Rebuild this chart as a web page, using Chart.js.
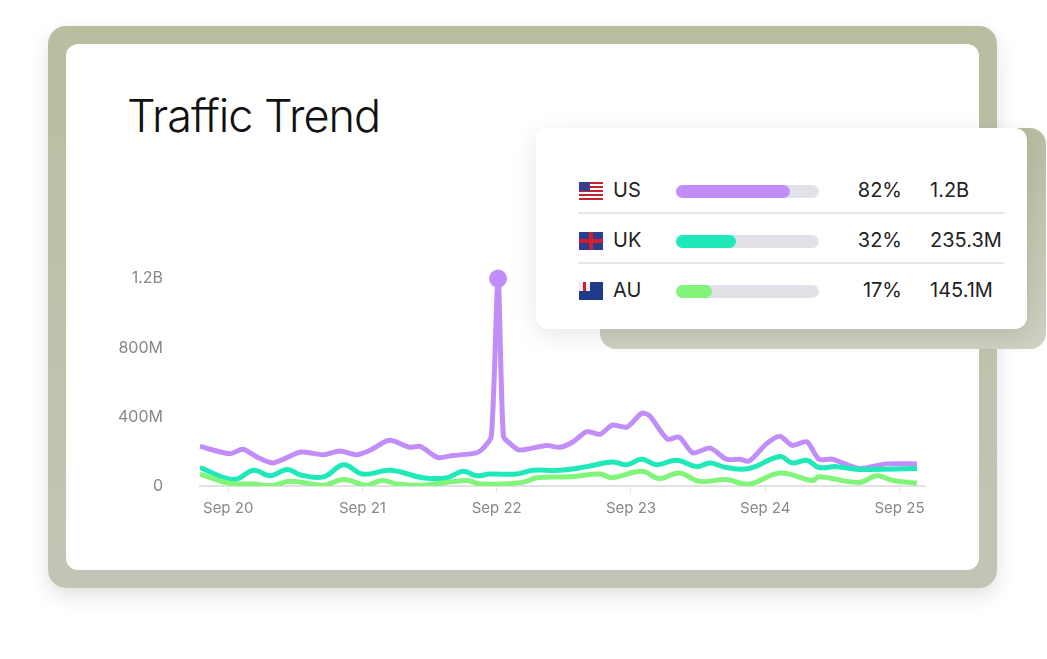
<!DOCTYPE html>
<html>
<head>
<meta charset="utf-8">
<script src="https://cdn.jsdelivr.net/npm/chart.js@4/dist/chart.umd.min.js"></script>
<style>
  body { margin: 0; width: 1047px; height: 659px; background: #fff; font-family: Inter, "Noto Sans", sans-serif; position: relative; overflow: hidden; }
  .frame { position: absolute; left: 48px; top: 26px; width: 949px; height: 562px; border-radius: 18px;
           background: linear-gradient(180deg, #b8bea0, #c4c4b6); box-shadow: 0 8px 20px rgba(0,0,0,0.12); }
  .card { position: absolute; left: 66px; top: 44px; width: 913px; height: 526px; border-radius: 12px; background: #fff; }
  .title { position: absolute; left: 127px; top: 88px; font-size: 45px; font-weight: 300; color: #111; letter-spacing: -1px; }
  .lframe { position: absolute; left: 600px; top: 128px; width: 446px; height: 221px; border-radius: 16px;
            background: linear-gradient(180deg, #b8bea0, #cfd0c2); }
  .lcard { position: absolute; left: 536px; top: 128px; width: 491px; height: 201px; border-radius: 12px; background: #fff;
           box-shadow: 0 6px 24px rgba(0,0,0,0.10); }
  .row { position: absolute; left: 578px; width: 426px; height: 50px; }
  .sep { position: absolute; left: 578px; width: 426px; height: 2px; background: #e6e6ea; }
  .flag { position: absolute; left: 1px; top: 10px; width: 24px; height: 18px; }
  .code { position: absolute; left: 35px; top: 6px; font-size: 20px; color: #222; }
  .track { position: absolute; left: 98px; top: 13px; width: 143px; height: 13px; border-radius: 7px; background: #e1e2e7; }
  .fill { height: 13px; border-radius: 7px; }
  .pct { position: absolute; right: 102px; top: 6px; font-size: 20px; color: #222; }
  .val { position: absolute; left: 352px; top: 6px; font-size: 20px; color: #222; }
  #wrap { position: absolute; left: 110px; top: 240px; width: 830px; height: 291px; }
</style>
</head>
<body>
<div class="frame"></div>
<div class="card"></div>
<div class="title">Traffic Trend</div>
<div class="lframe"></div>
<div class="lcard"></div>
<div id="legend"></div>
<div id="wrap"><canvas id="c"></canvas></div>
<script>
// day offsets (0 = Sep 20) and values in millions
const dayLabels = ['Sep 20', 'Sep 21', 'Sep 22', 'Sep 23', 'Sep 24', 'Sep 25'];
const yTicks = { 0: '0', 400: '400M', 800: '800M', 1200: '1.2B' };

const usX = [-0.21,0.01,0.11,0.22,0.33,0.41,0.54,0.71,0.83,0.96,1.06,1.18,1.23,1.35,1.43,1.56,1.67,1.85,1.90,1.96,2.01,2.05,2.10,2.17,2.37,2.47,2.57,2.67,2.77,2.86,2.97,3.08,3.14,3.27,3.36,3.46,3.59,3.71,3.81,3.88,4.01,4.11,4.20,4.31,4.40,4.50,4.70,4.90,5.13];
const usY = [229,187,213,165,133,155,197,181,203,181,208,261,261,224,229,165,176,192,219,288,1200,288,245,208,235,224,256,315,299,352,341,421,405,272,283,192,219,155,155,144,245,288,235,256,155,155,101,128,128];

const ukX = [-0.21,0.04,0.19,0.31,0.44,0.54,0.71,0.86,1.00,1.21,1.45,1.63,1.75,1.85,1.95,2.15,2.27,2.47,2.67,2.86,2.97,3.08,3.19,3.34,3.49,3.59,3.71,3.88,4.11,4.20,4.31,4.40,4.53,4.70,5.13];
const ukY = [107,37,91,59,96,64,53,123,69,91,48,48,85,59,69,69,91,91,112,139,123,155,123,149,112,133,107,101,171,133,149,107,112,96,101];

const auX = [-0.21,0.01,0.19,0.33,0.46,0.71,0.86,1.03,1.15,1.26,1.45,1.78,1.88,2.19,2.30,2.54,2.77,2.86,3.08,3.21,3.36,3.51,3.71,3.88,4.11,4.35,4.40,4.70,4.83,4.95,5.13];
const auY = [69,16,11,3,27,5,37,5,32,11,5,32,11,21,48,53,69,48,85,43,75,27,37,11,75,32,53,21,59,32,16];

const countries = ['US', 'UK', 'AU'];
const shares = [82, 32, 17];
const barFill = [80, 42, 25];
const totals = ['1.2B', '235.3M', '145.1M'];
const colors = ['#c18ef9', '#1fe9b8', '#80f579'];

const flags = {
  US: 'repeating-linear-gradient(180deg,#c8202f 0 2px,#fff 2px 4px)',
  UK: 'linear-gradient(90deg,transparent 10px,#d0202f 10px 14px,transparent 14px),linear-gradient(180deg,transparent 7px,#d0202f 7px 11px,transparent 11px),#2a3d8f',
  AU: '#1f3a8a'
};

const legend = document.getElementById('legend');
countries.forEach((c, i) => {
  const top = 172 + i * 50;
  const row = document.createElement('div');
  row.className = 'row';
  row.style.top = top + 'px';
  let flagHtml = '<div class="flag" style="background:' + flags[c] + '"></div>';
  if (c === 'US') flagHtml += '<div style="position:absolute;left:1px;top:10px;width:11px;height:9px;background:#3b3f8f"></div>';
  if (c === 'AU') flagHtml += '<div style="position:absolute;left:1px;top:10px;width:11px;height:9px;background:linear-gradient(90deg,transparent 4px,#d0202f 4px 7px,transparent 7px),#eee"></div>';
  row.innerHTML = flagHtml +
    '<div class="code">' + c + '</div>' +
    '<div class="track"><div class="fill" style="width:' + barFill[i] + '%;background:' + colors[i] + '"></div></div>' +
    '<div class="pct">' + shares[i] + '%</div>' +
    '<div class="val">' + totals[i] + '</div>';
  legend.appendChild(row);
  if (i < 2) {
    const s = document.createElement('div');
    s.className = 'sep';
    s.style.top = (top + 40) + 'px';
    legend.appendChild(s);
  }
});

function pts(xs, ys) { return xs.map((x, i) => ({ x: x, y: ys[i] })); }
const peak = usY.indexOf(Math.max(...usY));

new Chart(document.getElementById('c'), {
  type: 'line',
  data: {
    datasets: [
      { data: pts(auX, auY), borderColor: colors[2], borderWidth: 5, tension: 0.4, pointRadius: 0 },
      { data: pts(ukX, ukY), borderColor: colors[1], borderWidth: 5, tension: 0.4, pointRadius: 0 },
      { data: pts(usX, usY), borderColor: colors[0], borderWidth: 5, tension: 0.25, clip: false,
        pointRadius: usY.map((v, i) => i === peak ? 9 : 0), pointBackgroundColor: colors[0], pointBorderWidth: 0 }
    ]
  },
  options: {
    responsive: true, maintainAspectRatio: false, animation: false,
    layout: { padding: { top: 12, right: 15 } },
    plugins: { legend: { display: false }, tooltip: { enabled: false } },
    scales: {
      x: {
        type: 'linear', min: -0.21, max: 5.19,
        afterBuildTicks: s => { s.ticks = dayLabels.map((_, i) => ({ value: i })); },
        afterFit: s => { s.height = 45; },
        ticks: { callback: v => dayLabels[v], color: '#888', font: { size: 15, family: 'Inter' }, padding: 6, maxRotation: 0 },
        grid: { drawOnChartArea: false, tickLength: 7, color: '#e2e2e2' },
        border: { color: '#e2e2e2', width: 2 }
      },
      y: {
        min: 0, max: 1200,
        afterBuildTicks: s => { s.ticks = [0, 400, 800, 1200].map(v => ({ value: v })); },
        afterFit: s => { s.width = 90; },
        ticks: { callback: v => yTicks[v], color: '#888', font: { size: 16, family: 'Inter' }, padding: 29 },
        grid: { display: false },
        border: { display: false }
      }
    }
  }
});
</script>
</body>
</html>
